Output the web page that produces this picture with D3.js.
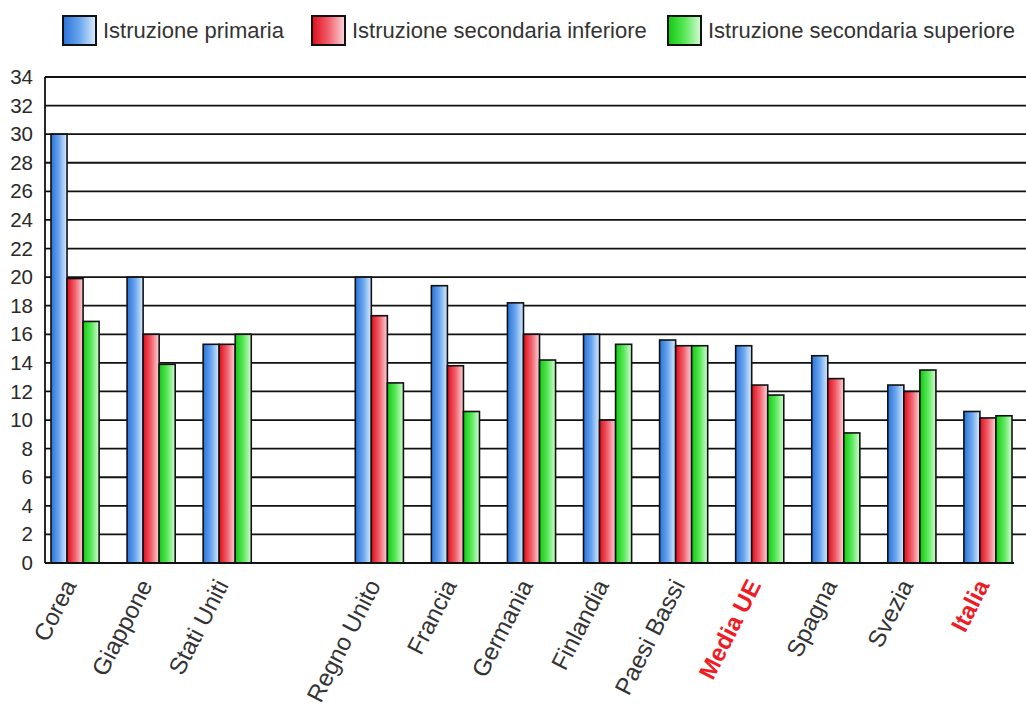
<!DOCTYPE html>
<html><head><meta charset="utf-8">
<script src="https://cdn.jsdelivr.net/npm/d3@7"></script>
<style>
html,body{margin:0;padding:0;background:#fff;}
svg{display:block;font-family:"Liberation Sans",Arial,Helvetica,sans-serif;}
</style></head>
<body><svg id="c" width="1026" height="715"></svg>
<script>
const categories = ["Corea","Giappone","Stati Uniti","","Regno Unito","Francia","Germania","Finlandia","Paesi Bassi","Media UE","Spagna","Svezia","Italia"];
const highlighted = ["Media UE","Italia"];
const seriesNames = ["Istruzione primaria","Istruzione secondaria inferiore","Istruzione secondaria superiore"];
const primaria   = [30, 20, 15.3, null, 20, 19.4, 18.2, 16, 15.6, 15.2, 14.5, 12.45, 10.6];
const secInf     = [19.9, 16, 15.3, null, 17.3, 13.8, 16, 10, 15.2, 12.45, 12.9, 12.0, 10.15];
const secSup     = [16.9, 13.9, 16, null, 12.6, 10.6, 14.2, 15.3, 15.2, 11.75, 9.1, 13.5, 10.3];
const yTicks = [0,2,4,6,8,10,12,14,16,18,20,22,24,26,28,30,32,34];

(function(){
const series = [primaria, secInf, secSup];
const colors = [
  ["#2a72d8","#6aa6ee","#dcecfd"],
  ["#e20c1a","#f0606c","#fbd6da"],
  ["#12c812","#58e858","#d6fad6"]
];

const svg = d3.select("#c");
const defs = svg.append("defs");
colors.forEach((c,i)=>{
  const g = defs.append("linearGradient").attr("id","g"+i).attr("x1","0").attr("x2","1").attr("y1","0").attr("y2","0");
  g.append("stop").attr("offset","0%").attr("stop-color",c[0]);
  g.append("stop").attr("offset","50%").attr("stop-color",c[1]);
  g.append("stop").attr("offset","100%").attr("stop-color",c[2]);
});

const pLeft = 45, pTop = 77, pBottom = 563;
const y = d3.scaleLinear().domain([0,34]).range([pBottom, pTop]);
const x = d3.scaleBand().domain(categories.map((d,i)=>i)).range([51, 1012]).paddingInner(0.3676).paddingOuter(0);
const xs = d3.scaleBand().domain([0,1,2]).range([0, x.bandwidth()]).padding(0);

// grid lines
svg.append("g").selectAll("line").data(yTicks.filter(t=>t>0)).join("line")
  .attr("x1", pLeft).attr("x2", 1026)
  .attr("y1", d=>y(d)).attr("y2", d=>y(d))
  .attr("stroke","#111").attr("stroke-width",1.8);

// y axis
const ya = svg.append("g").attr("transform",`translate(${pLeft},0)`)
  .call(d3.axisLeft(y).tickValues(yTicks).tickSize(0).tickPadding(12));
ya.select(".domain").remove();
ya.selectAll("text").attr("font-size",20.5).attr("fill","#2a2a2a").attr("font-family","Liberation Sans, Arial, sans-serif");

// bars
const idx = categories.map((c,i)=>i).filter(i=>categories[i]!=="");
const groups = svg.append("g").selectAll("g").data(idx).join("g")
  .attr("transform", i=>`translate(${x(i)},0)`);
groups.selectAll("rect").data(i=>series.map((s,k)=>({k, v:s[i]}))).join("rect")
  .attr("x", d=>xs(d.k)).attr("width", xs.bandwidth())
  .attr("y", d=>y(d.v)).attr("height", d=>y(0)-y(d.v))
  .attr("fill", d=>`url(#g${d.k})`).attr("stroke","#111").attr("stroke-width",1.6);

// axes lines
svg.append("line").attr("x1",pLeft).attr("x2",pLeft).attr("y1",pTop).attr("y2",pBottom).attr("stroke","#111").attr("stroke-width",1.8);
svg.append("line").attr("x1",pLeft).attr("x2",1014).attr("y1",pBottom).attr("y2",pBottom).attr("stroke","#111").attr("stroke-width",1.8);

// x labels
svg.append("g").selectAll("text").data(idx).join("text")
  .attr("transform", i=>`translate(${x(i)+x.bandwidth()/2+2},${pBottom+22}) rotate(-63)`)
  .attr("text-anchor","end")
  .attr("font-size",24)
  .attr("font-weight", i=>highlighted.includes(categories[i])?"bold":"normal")
  .attr("fill", i=>highlighted.includes(categories[i])?"#ee1c25":"#333")
  .text(i=>categories[i]);

// legend
const legX = [63, 312, 668];
const leg = svg.append("g").selectAll("g").data(seriesNames).join("g")
  .attr("transform",(d,i)=>`translate(${legX[i]},16)`);
leg.append("rect").attr("width",33).attr("height",29).attr("fill",(d,i)=>`url(#g${i})`).attr("stroke","#111").attr("stroke-width",2);
leg.append("text").attr("x",40).attr("y",22).attr("font-size",22).attr("fill","#333").text(d=>d);
})();
</script></body></html>
